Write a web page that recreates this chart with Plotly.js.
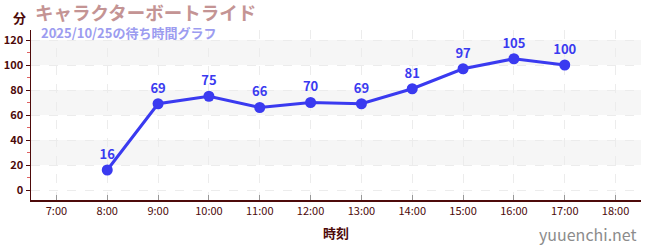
<!DOCTYPE html>
<html><head><meta charset="utf-8">
<script src="https://cdn.plot.ly/plotly-3.0.1.min.js"></script>
<style>html,body{margin:0;padding:0;background:#fff}#c{width:650px;height:250px}</style>
</head><body><div id="c"></div>
<script>
const times = ["08:00","09:00","10:00","11:00","12:00","13:00","14:00","15:00","16:00","17:00"];
const waits = [16,69,75,66,70,69,81,97,105,100];
const day = "2025-10-25";
const bandRanges = [[20,40],[60,80],[100,120]];
const titleText = "キャラクターボートライド";
const subtitleText = "2025/10/25の待ち時間グラフ";

const x = times.map(t => day + " " + t);
const font = "'Noto Sans CJK JP', 'Noto Sans', sans-serif";
const maroon = "#4d0a0a";

const trace = {
  x: x, y: waits, type: "scatter", mode: "lines+markers+text",
  text: waits.map(String), textposition: "top center",
  textfont: {family: font, size: 13, color: "#3a3af0", weight: "bold"},
  line: {color: "#3a3af0", width: 3},
  marker: {color: "#3a3af0", size: 11},
  cliponaxis: false, hoverinfo: "none"
};

const shapes = bandRanges.map(b => ({
  type: "rect", xref: "paper", yref: "y", x0: 0, x1: 1, y0: b[0], y1: b[1],
  fillcolor: "#f6f6f6", line: {width: 0}, layer: "below"
}));

const layout = {
  width: 650, height: 250,
  margin: {l: 31, r: 9, t: 30, b: 50},
  paper_bgcolor: "#fff", plot_bgcolor: "#fff",
  showlegend: false,
  font: {family: font, color: maroon},
  xaxis: {
    type: "date",
    range: [day + " 06:30", day + " 18:30"],
    dtick: 3600000, tick0: day + " 07:00",
    tickformat: "%-H:%M",
    tickfont: {family: font, size: 11, color: maroon},
    ticks: "inside", ticklen: 5, tickcolor: "#999",
    showline: true, linecolor: maroon, linewidth: 1.5,
    showgrid: true, gridcolor: "#ececec", griddash: "dash", gridwidth: 1,
    zeroline: false, fixedrange: true,
    title: {text: "時刻", font: {family: font, size: 13, color: maroon, weight: "bold"}, standoff: 12}
  },
  yaxis: {
    range: [-8, 128],
    dtick: 20, tick0: 0,
    tickfont: {family: font, size: 11, color: maroon, weight: "bold"},
    ticks: "outside", ticklen: 4, tickcolor: maroon,
    minor: {dtick: 10, ticks: "outside", ticklen: 3, tickcolor: "#e06060", showgrid: false},
    showline: true, linecolor: maroon, linewidth: 1.5,
    showgrid: true, gridcolor: "#ececec", griddash: "dash",
    zeroline: false, fixedrange: true
  },
  shapes: shapes,
  annotations: [
    {text: "<b>" + titleText + "</b>", xref: "paper", yref: "paper", x: 0, y: 1, xshift: 2, yshift: 18,
     xanchor: "left", yanchor: "middle", showarrow: false,
     font: {family: font, size: 18.5, color: "#c49494"}},
    {text: "<b>" + subtitleText + "</b>", xref: "paper", yref: "paper", x: 0, y: 1, xshift: 8, yshift: -2,
     xanchor: "left", yanchor: "middle", showarrow: false,
     font: {family: font, size: 13, color: "#9c9cf0"}},
    {text: "<b>分</b>", xref: "paper", yref: "paper", x: 0, y: 1, xshift: -12, yshift: 13,
     xanchor: "center", yanchor: "middle", showarrow: false,
     font: {family: font, size: 13, color: maroon}},
    {text: "yuuenchi.net", xref: "paper", yref: "paper", x: 1, y: 0, xshift: -2, yshift: -34,
     xanchor: "right", yanchor: "middle", showarrow: false,
     font: {family: font, size: 16, color: "#8c8c8c"}}
  ]
};

Plotly.newPlot("c", [trace], layout, {displayModeBar: false, staticPlot: true});
</script></body></html>
